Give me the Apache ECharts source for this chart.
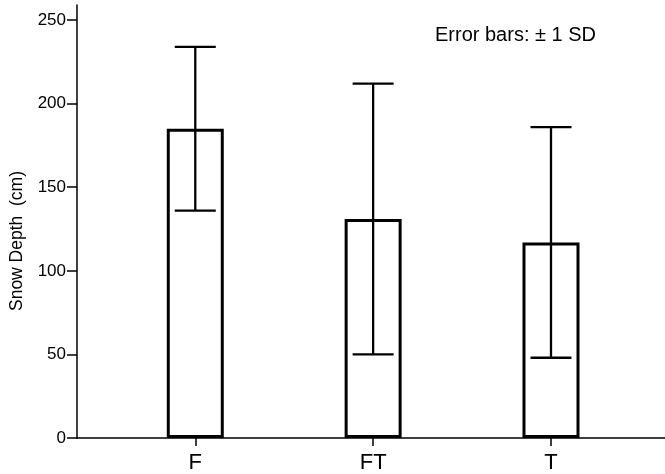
<!DOCTYPE html>
<html>
<head>
<meta charset="utf-8">
<script src="https://cdn.jsdelivr.net/npm/echarts@6/dist/echarts.min.js"></script>
<style>
  html, body { margin: 0; padding: 0; background: #fff; }
  #chart { width: 665px; height: 474px; }
</style>
</head>
<body>
<div id="chart"></div>
<script>
// group names and values
const categories = ['F', 'FT', 'T'];
const means = [185, 131, 117];
const sds = [49, 81, 69];
const yTicks = [0, 50, 100, 150, 200, 250];
const xPositions = [1, 2, 3];

const chartDom = document.getElementById('chart');
let myChart = echarts.init(chartDom);
let option;

const font = 'Liberation Sans, Arial, sans-serif';

let barData = [];
let errData = [];
for (let i = 0; i < categories.length; i++) {
    barData.push([xPositions[i], means[i]]);
    errData.push([xPositions[i], means[i] - sds[i], means[i] + sds[i]]);
}

option = {
    animation: false,
    backgroundColor: '#fff',
    grid: {
        left: 77,
        right: 0,
        top: 5,
        bottom: 35
    },
    graphic: [
        {
            type: 'text',
            left: 435,
            top: 25,
            style: {
                text: 'Error bars: \u00b1 1 SD',
                font: '20px ' + font,
                fill: '#000'
            }
        },
        {
            type: 'text',
            x: 17,
            y: 241,
            rotation: Math.PI / 2,
            style: {
                text: 'Snow Depth  (cm)',
                font: '17.5px ' + font,
                fill: '#000',
                align: 'center',
                verticalAlign: 'middle'
            }
        }
    ],
    xAxis: {
        type: 'value',
        min: 0.335,
        max: 3.641,
        splitLine: { show: false },
        axisLine: {
            lineStyle: { color: '#000', width: 1.5 }
        },
        axisTick: {
            customValues: xPositions,
            length: 8,
            lineStyle: { color: '#000', width: 1.5 }
        },
        axisLabel: {
            customValues: xPositions,
            margin: 14,
            color: '#000',
            fontSize: 22,
            fontFamily: font
            ,
            formatter: function (value) {
                return categories[Math.round(value) - 1];
            }
        }
    },
    yAxis: {
        type: 'value',
        min: 0,
        max: 259,
        splitLine: { show: false },
        axisLine: {
            show: true,
            lineStyle: { color: '#000', width: 1.5 }
        },
        axisTick: {
            show: true,
            customValues: yTicks,
            length: 10,
            lineStyle: { color: '#000', width: 1.5 }
        },
        axisLabel: {
            customValues: yTicks,
            margin: 11,
            color: '#000',
            fontSize: 17,
            fontFamily: font
        }
    },
    series: [
        {
            name: 'mean',
            type: 'bar',
            barWidth: 57,
            itemStyle: {
                color: '#fff',
                borderColor: '#000',
                borderWidth: 3
            },
            data: barData
        },
        {
            name: 'sd',
            type: 'custom',
            z: 5,
            renderItem: function (params, api) {
                const x = api.value(0);
                const lo = api.coord([x, api.value(1)]);
                const hi = api.coord([x, api.value(2)]);
                const half = 20.5;
                const style = { stroke: '#000', lineWidth: 2.3 };
                return {
                    type: 'group',
                    children: [
                        { type: 'line', shape: { x1: lo[0], y1: lo[1], x2: hi[0], y2: hi[1] }, style: style },
                        { type: 'line', shape: { x1: hi[0] - half, y1: hi[1], x2: hi[0] + half, y2: hi[1] }, style: style },
                        { type: 'line', shape: { x1: lo[0] - half, y1: lo[1], x2: lo[0] + half, y2: lo[1] }, style: style }
                    ]
                };
            },
            encode: { x: 0, y: [1, 2] },
            data: errData
        }
    ]
};

option && myChart.setOption(option);
</script>
</body>
</html>
